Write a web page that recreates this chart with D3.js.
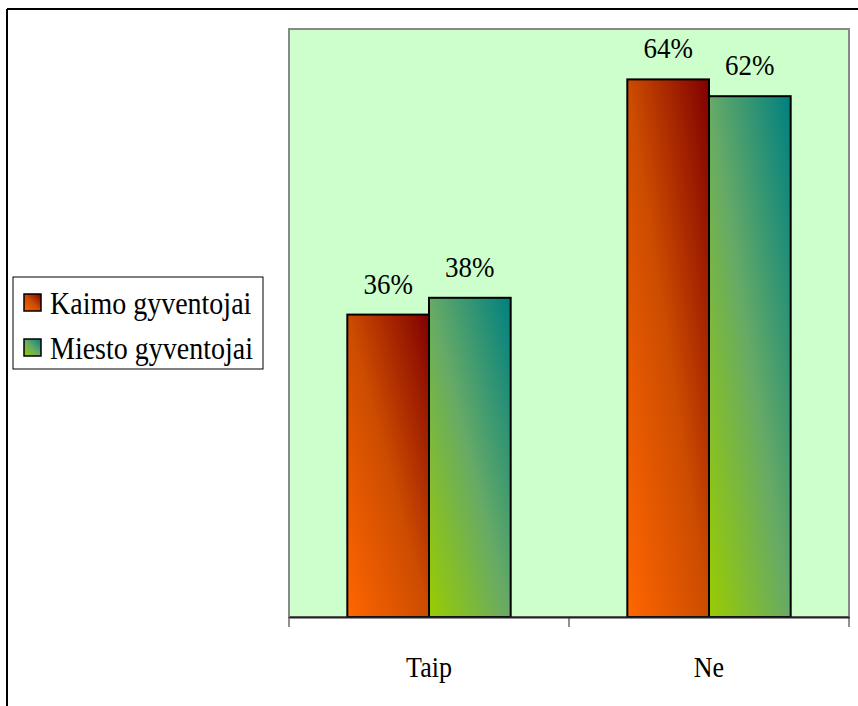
<!DOCTYPE html>
<html>
<head>
<meta charset="utf-8">
<script src="https://cdn.jsdelivr.net/npm/d3@7"></script>
<style>
  body { margin: 0; background: #fff; }
</style>
</head>
<body>
<svg width="858" height="706"></svg>
<script>
// chart data
var categories = ["Taip", "Ne"];
var seriesNames = ["Kaimo gyventojai", "Miesto gyventojai"];
var kaimo = [36, 64];
var miesto = [38, 62];

var FONT = "'Liberation Serif'";
var STRETCH = 1.12; // glyphs in the original look a bit taller than wide

var svg = d3.select("svg");

// outer frame (top and left edge only visible)
svg.append("line").attr("x1", 7).attr("x2", 858).attr("y1", 9).attr("y2", 9)
    .attr("stroke", "#000").attr("stroke-width", 2);
svg.append("line").attr("x1", 7).attr("x2", 7).attr("y1", 9).attr("y2", 706)
    .attr("stroke", "#000").attr("stroke-width", 2);

var plot = { left: 289, top: 29, right: 849, bottom: 617 };

var x = d3.scaleBand().domain(categories).range([plot.left, plot.right]).paddingInner(0).paddingOuter(0);
var xs = d3.scaleBand().domain(seriesNames).range([0, x.bandwidth()]).paddingInner(0).paddingOuter(0.714);
var y = d3.scaleLinear().domain([0, 70]).range([plot.bottom, plot.top]);

// gradients, bottom-left to top-right
var defs = svg.append("defs");
var grads = [
    { id: "g0", stops: ["#ff6600", "#cc4c00", "#800000"] },
    { id: "g1", stops: ["#99cc00", "#66aa66", "#008080"] }
];
grads.forEach(function (g) {
    var lg = defs.append("linearGradient").attr("id", g.id)
        .attr("x1", 0).attr("y1", 1).attr("x2", 1).attr("y2", 0);
    g.stops.forEach(function (c, i) {
        lg.append("stop").attr("offset", (i * 50) + "%").attr("stop-color", c);
    });
});

function label(sel, tx, ty, txt, size, anchor) {
    return sel.append("text")
        .attr("transform", "translate(" + tx + "," + ty + ") scale(1," + STRETCH + ")")
        .attr("text-anchor", anchor || "start")
        .style("font-family", FONT)
        .style("font-size", size + "px")
        .attr("fill", "#000")
        .text(txt);
}

// plot background
svg.append("rect")
    .attr("x", plot.left).attr("y", plot.top)
    .attr("width", plot.right - plot.left).attr("height", plot.bottom - plot.top)
    .attr("fill", "#ccffcc").attr("stroke", "#888").attr("stroke-width", 2);

var rows = [];
categories.forEach(function (c, i) {
    rows.push({ cat: c, s: 0, v: kaimo[i] });
    rows.push({ cat: c, s: 1, v: miesto[i] });
});

svg.selectAll(".bar").data(rows).enter().append("rect")
    .attr("class", "bar")
    .attr("x", function (d) { return x(d.cat) + xs(seriesNames[d.s]); })
    .attr("y", function (d) { return y(d.v); })
    .attr("width", xs.bandwidth())
    .attr("height", function (d) { return plot.bottom - y(d.v); })
    .attr("fill", function (d) { return "url(#g" + d.s + ")"; })
    .attr("stroke", "#000").attr("stroke-width", 2);

rows.forEach(function (d) {
    var cx = x(d.cat) + xs(seriesNames[d.s]) + xs.bandwidth() / 2;
    label(svg, cx, y(d.v) - 21, d.v + "%", 27, "middle");
});

// x axis
var axis = svg.append("g")
    .attr("transform", "translate(0," + plot.bottom + ")")
    .call(d3.axisBottom(x).tickSize(0).tickFormat(""));
axis.select(".domain").attr("stroke", "#222").attr("stroke-width", 2);
categories.forEach(function (c) {
    label(svg, x(c) + x.bandwidth() / 2, plot.bottom + 60, c, 26, "middle");
});

// tick marks at category borders
var borders = [plot.left].concat(categories.map(function (c) { return x(c) + x.bandwidth(); }));
svg.selectAll(".tk").data(borders).enter().append("line")
    .attr("x1", function (d) { return d; }).attr("x2", function (d) { return d; })
    .attr("y1", plot.bottom).attr("y2", plot.bottom + 10)
    .attr("stroke", "#222").attr("stroke-width", 1);

// legend
var lg = svg.append("g").attr("transform", "translate(13,277)");
lg.append("rect").attr("width", 250).attr("height", 92)
    .attr("fill", "#fff").attr("stroke", "#000").attr("stroke-width", 1);
seriesNames.forEach(function (n, i) {
    var row = lg.append("g").attr("transform", "translate(0," + (i * 45) + ")");
    row.append("rect").attr("x", 11).attr("y", 17).attr("width", 17).attr("height", 17)
        .attr("fill", "url(#g" + i + ")").attr("stroke", "#000").attr("stroke-width", 1.5);
    label(row, 37, 37, n, 28);
});
</script>
</body>
</html>
